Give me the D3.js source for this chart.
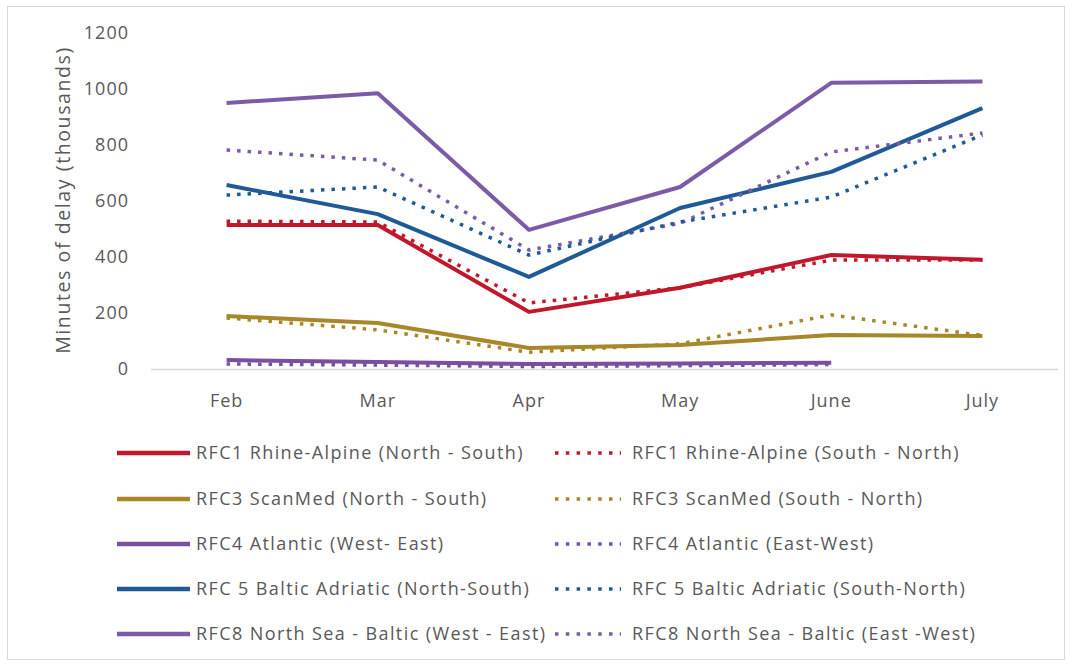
<!DOCTYPE html>
<html>
<head>
<meta charset="utf-8">
<script src="https://d3js.org/d3.v7.min.js"></script>
<style>
body{margin:0;background:#fff;}
text{font-family:"Open Sans","Noto Sans",sans-serif;fill:#595959;}
</style>
</head>
<body>
<svg width="1072" height="668" id="mainsvg"></svg>
<script>
// months on x axis
const months=['Feb','Mar','Apr','May','June','July'];
const yTicks=[0,200,400,600,800,1000,1200];

// minutes of delay (thousands)
const rfc1NS=[514,514,204,290,407,390];
const rfc1SN=[528,525,236,290,389,389];
const rfc3NS=[189,164,75,86,121,118];
const rfc3SN=[182,140,60,90,193,120];
const rfc4WE=[32,25,18,20,22,null];
const rfc4EW=[18,14,9,12,16,null];
const rfc5NS=[657,553,329,575,704,932];
const rfc5SN=[621,650,407,525,614,836];
const rfc8WE=[950,985,497,650,1022,1027];
const rfc8EW=[782,746,425,520,775,843];

const series=[
  {name:'RFC1 Rhine-Alpine (North - South)',values:rfc1NS,color:'#c0182a',dotted:false},
  {name:'RFC1 Rhine-Alpine (South - North)',values:rfc1SN,color:'#c0182a',dotted:true},
  {name:'RFC3 ScanMed (North - South)',values:rfc3NS,color:'#a8862a',dotted:false},
  {name:'RFC3 ScanMed (South - North)',values:rfc3SN,color:'#a8862a',dotted:true},
  {name:'RFC4 Atlantic (West- East)',values:rfc4WE,color:'#7a4ea0',dotted:false},
  {name:'RFC4 Atlantic (East-West)',values:rfc4EW,color:'#7a4ea0',dotted:true},
  {name:'RFC 5 Baltic Adriatic (North-South)',values:rfc5NS,color:'#1f5a96',dotted:false},
  {name:'RFC 5 Baltic Adriatic (South-North)',values:rfc5SN,color:'#1f5a96',dotted:true},
  {name:'RFC8 North Sea - Baltic (West - East)',values:rfc8WE,color:'#7b5aa8',dotted:false},
  {name:'RFC8 North Sea - Baltic (East -West)',values:rfc8EW,color:'#7b5aa8',dotted:true}
];

const svg=d3.select('#mainsvg');
const width=+svg.attr('width');
const height=+svg.attr('height');
const margin={top:33,right:14,bottom:299,left:151};

// outer frame
svg.append('rect').attr('x',7.5).attr('y',6.5).attr('width',1057).attr('height',653)
  .attr('fill','#fff').attr('stroke','#d9d9d9');

const x=d3.scaleBand().domain(months).range([margin.left,width-margin.right]);
const y=d3.scaleLinear().domain([0,1200]).range([height-margin.bottom,margin.top]);

// y ticks
svg.append('g').selectAll('text').data(yTicks).join('text')
  .attr('x',129).attr('y',d=>y(d)).attr('dy','0.35em')
  .attr('text-anchor','end').style('font-size','18px').style('letter-spacing','1px').text(d=>d);

// baseline
svg.append('line').attr('x1',x.range()[0]).attr('x2',x.range()[1])
  .attr('y1',y(0)+0.5).attr('y2',y(0)+0.5).attr('stroke','#d9d9d9').attr('stroke-width',1.5);

const xaxis=d3.axisBottom(x).tickSize(0).tickPadding(25);
const gx=svg.append('g').attr('transform',`translate(0,${y(0)})`).call(xaxis);
gx.select('.domain').remove();
gx.selectAll('text').style('font-size','18px').style('letter-spacing','1px').attr('fill','#595959')
  .style('font-family','"Open Sans","Noto Sans",sans-serif');

// y title
svg.append('text').attr('transform',`translate(70,${y(600)-1}) rotate(-90)`)
  .attr('text-anchor','middle').style('font-size','19.5px').style('letter-spacing','1.6px')
  .text('Minutes of delay (thousands)');

const line=d3.line()
  .defined(d=>d!=null)
  .x((d,i)=>x(months[i])+x.bandwidth()/2)
  .y(d=>y(d));

const order=[8,6,0,2,4,9,7,1,3,5];
svg.append('g').selectAll('path').data(order.map(i=>series[i])).join('path')
  .attr('d',d=>line(d.values))
  .attr('fill','none')
  .attr('stroke',d=>d.color)
  .attr('stroke-width',d=>d.dotted?3.5:4)
  .attr('stroke-dasharray',d=>d.dotted?'3.5,7':null)
  .attr('stroke-linejoin','round');

// legend
const legendRows=[453,499,544,589,634];
const leg=svg.append('g').selectAll('g').data(series).join('g')
  .attr('transform',(d,i)=>`translate(${i%2?555:117},${legendRows[Math.floor(i/2)]})`);
leg.append('line').attr('x1',0).attr('x2',d=>d.dotted?66:73).attr('y1',0).attr('y2',0)
  .attr('stroke',d=>d.color).attr('stroke-width',d=>d.dotted?3.5:4.5)
  .attr('stroke-dasharray',d=>d.dotted?'3.5,7.3':null);
leg.append('text').attr('x',d=>d.dotted?77:79).attr('y',0).attr('dy','0.35em')
  .style('font-size','18px').style('letter-spacing','1.4px').text(d=>d.name);
</script>
</body>
</html>
